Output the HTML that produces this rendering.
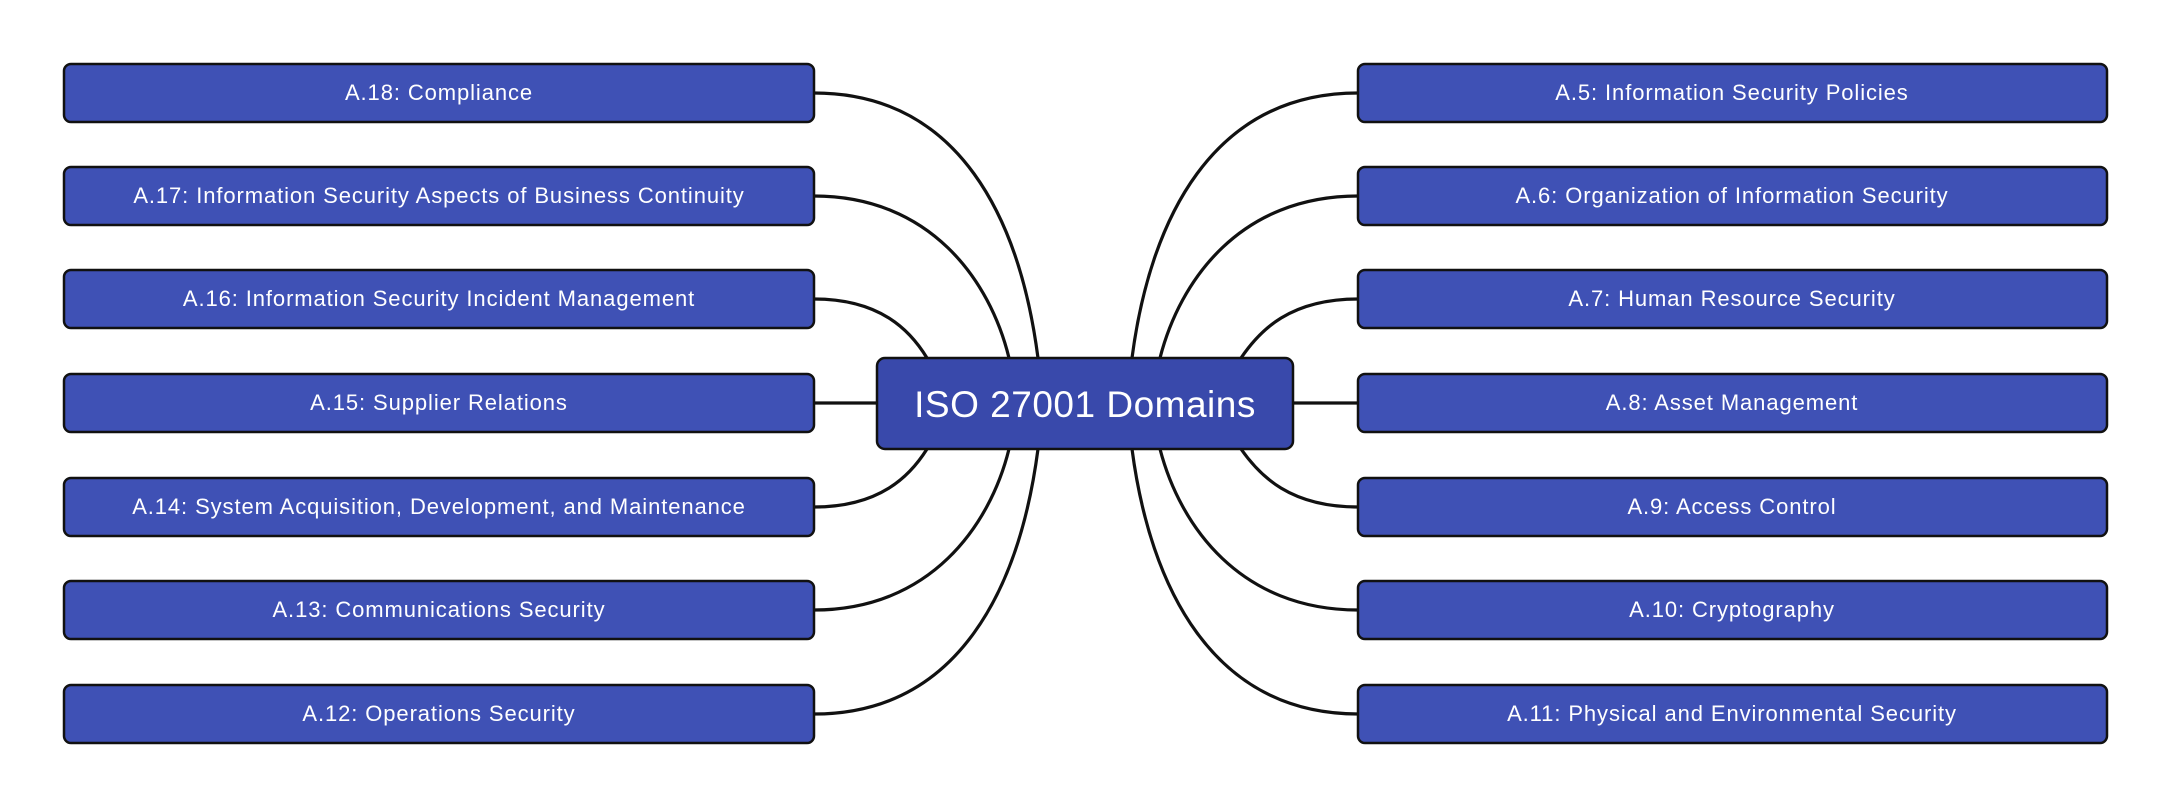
<!DOCTYPE html>
<html><head><meta charset="utf-8"><style>
html,body{margin:0;padding:0;background:#fff;width:2170px;height:807px;overflow:hidden}
svg text{font-family:"Liberation Sans",sans-serif;fill:#fff}
</style></head><body>
<svg width="2170" height="807" xmlns="http://www.w3.org/2000/svg">
<g fill="none" stroke="#111" stroke-width="3.2">
<path d="M814,93 C960,93 1020,220 1038,358"/>
<path d="M814,196 C930,196 990,280 1009,358"/>
<path d="M814,299 C880,299 910,330 927,358"/>
<path d="M814,403 L877,403"/>
<path d="M814,507 C880,507 910,476 927,449"/>
<path d="M814,610 C930,610 990,526 1009,449"/>
<path d="M814,714 C960,714 1020,586 1038,449"/>
<path d="M1358,93 C1212,93 1150,220 1132,358"/>
<path d="M1358,196 C1240,196 1180,280 1160,358"/>
<path d="M1358,299 C1290,299 1260,330 1241,358"/>
<path d="M1293,403 L1358,403"/>
<path d="M1358,507 C1290,507 1260,476 1241,449"/>
<path d="M1358,610 C1240,610 1180,526 1160,449"/>
<path d="M1358,714 C1212,714 1150,586 1132,449"/>
</g>
<g stroke="#111" stroke-width="2.5" fill="#3f51b5">
<rect x="64" y="64" width="750" height="58" rx="7"/>
<rect x="64" y="167" width="750" height="58" rx="7"/>
<rect x="64" y="270" width="750" height="58" rx="7"/>
<rect x="64" y="374" width="750" height="58" rx="7"/>
<rect x="64" y="478" width="750" height="58" rx="7"/>
<rect x="64" y="581" width="750" height="58" rx="7"/>
<rect x="64" y="685" width="750" height="58" rx="7"/>
<rect x="1358" y="64" width="749" height="58" rx="7"/>
<rect x="1358" y="167" width="749" height="58" rx="7"/>
<rect x="1358" y="270" width="749" height="58" rx="7"/>
<rect x="1358" y="374" width="749" height="58" rx="7"/>
<rect x="1358" y="478" width="749" height="58" rx="7"/>
<rect x="1358" y="581" width="749" height="58" rx="7"/>
<rect x="1358" y="685" width="749" height="58" rx="7"/>
<rect x="877" y="358" width="416" height="91" rx="8" fill="#3949ab"/>
</g>
<g font-size="22" text-anchor="middle" letter-spacing="0.9">
<text x="439" y="100">A.18: Compliance</text>
<text x="439" y="203">A.17: Information Security Aspects of Business Continuity</text>
<text x="439" y="306">A.16: Information Security Incident Management</text>
<text x="439" y="410">A.15: Supplier Relations</text>
<text x="439" y="514">A.14: System Acquisition, Development, and Maintenance</text>
<text x="439" y="617">A.13: Communications Security</text>
<text x="439" y="721">A.12: Operations Security</text>
<text x="1732" y="100">A.5: Information Security Policies</text>
<text x="1732" y="203">A.6: Organization of Information Security</text>
<text x="1732" y="306">A.7: Human Resource Security</text>
<text x="1732" y="410">A.8: Asset Management</text>
<text x="1732" y="514">A.9: Access Control</text>
<text x="1732" y="617">A.10: Cryptography</text>
<text x="1732" y="721">A.11: Physical and Environmental Security</text>
<text x="1085" y="417" font-size="37" letter-spacing="0.5">ISO 27001 Domains</text>
</g>
</svg>
</body></html>
